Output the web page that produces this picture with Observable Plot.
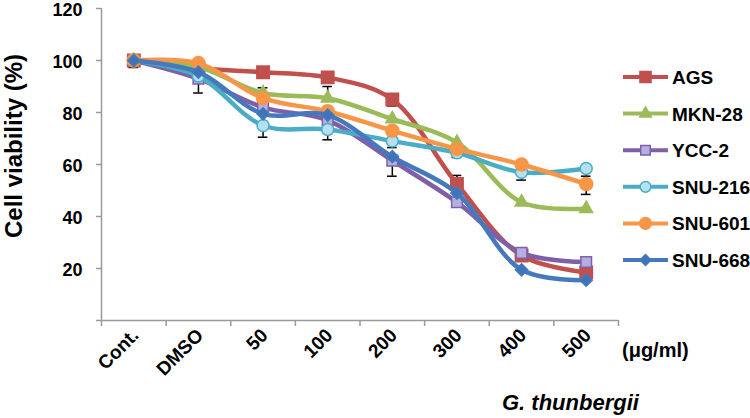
<!DOCTYPE html>
<html>
<head>
<meta charset="utf-8">
<script src="https://cdn.jsdelivr.net/npm/d3@7"></script>
<script src="https://cdn.jsdelivr.net/npm/@observablehq/plot@0.6"></script>
<style>
  html, body { margin: 0; padding: 0; background: #fff; }
  #wrap { position: relative; width: 750px; height: 418px; overflow: hidden; }
</style>
</head>
<body>
<div id="wrap"></div>
<script>
// ---- data ----
const categories = ["Cont.", "DMSO", "50", "100", "200", "300", "400", "500"];
const seriesNames = ["AGS", "MKN-28", "YCC-2", "SNU-216", "SNU-601", "SNU-668"];
const AGS    = [100, 97,   95.5, 93.5, 85,   52.5, 25,   18.5];
const MKN28  = [100, 97.5, 87.5, 85.5, 77.5, 68.5, 45.5, 43];
const YCC2   = [100, 93,   82,   77,   61.5, 45.5, 26,   22.5];
const SNU216 = [100, 94,   75,   73.5, 69,   64.5, 57,   58.5];
const SNU601 = [100, 99,   85.5, 80.5, 73,   66,   60,   52.5];
const SNU668 = [100, 95.5, 79.5, 79,   63,   49,   19.5, 15.5];
const seriesValues = [AGS, MKN28, YCC2, SNU216, SNU601, SNU668];
const yTicks = [0, 20, 40, 60, 80, 100, 120];
const yTickLabels = ["", "20", "40", "60", "80", "100", "120"];

// error bars (visible parts)
const errSeries = ["YCC-2", "YCC-2", "MKN-28", "SNU-216", "MKN-28", "SNU-216", "AGS", "SNU-216", "SNU-668", "AGS", "SNU-216", "SNU-216", "SNU-216", "SNU-601"];
const errCat    = ["Cont.", "DMSO", "50", "50", "100", "100", "200", "200", "200", "300", "300", "400", "500", "500"];
const errLow    = [97.3, 87.5, 87.5, 70.5, 85.5, 69.5, 82.5, 66.5, 55.5, 52.5, 62.7, 54, 55.5, 48.5];
const errHigh   = [100,  93,   89.5, 75,   90,   73.5, 85,   69,   63,   55.8, 64.5, 57, 58.5, 55];

// ---- styles ----
const colors  = ["#C0504D", "#9BBB59", "#7F5FA8", "#4BACC6", "#F79646", "#4579BD"];
const fills   = ["#C0504D", "#9BBB59", "#B3B0E0", "#B6E0F0", "#F79646", "#3F74B8"];
const symbols = ["square", "triangle", "square", "circle", "circle", "diamond2"];
const radii   = [7, 4.8, 6, 6, 6.5, 5.5];
const d3symbols = [d3.symbolSquare, d3.symbolTriangle, d3.symbolSquare, d3.symbolCircle, d3.symbolCircle, d3.symbolDiamond2];

const rows = [];
seriesNames.forEach((s, si) => seriesValues[si].forEach((v, i) => rows.push({series: s, si, i, cat: categories[i], v})));
const errRows = errSeries.map((s, k) => ({series: s, i: categories.indexOf(errCat[k]), lo: errLow[k], hi: errHigh[k]}));
const capW = 0.075;
const capValue = d => (d.lo < seriesValues[seriesNames.indexOf(d.series)][d.i] ? d.lo : d.hi);

const font = "'Liberation Sans', Arial, sans-serif";
const axisColor = "#9a9a9a";
const marks = [];
// axes
marks.push(Plot.axisY({ticks: yTicks, tickFormat: () => "", tickSize: 5, stroke: axisColor, strokeWidth: 1.5, label: null}));
marks.push(Plot.axisX({ticks: d3.range(categories.length + 1).map(i => i - 0.5), tickFormat: () => "", tickSize: 6, stroke: axisColor, strokeWidth: 1.5, label: null}));
marks.push(Plot.ruleX([-0.5], {stroke: axisColor, strokeWidth: 1.5}));
marks.push(Plot.ruleY([0], {stroke: axisColor, strokeWidth: 1.5}));
// y tick labels
marks.push(Plot.text(yTicks, {y: d => d, text: (d, i) => yTickLabels[i], frameAnchor: "left", dx: -19, dy: 1.5, textAnchor: "end", fontSize: 18, fontWeight: "bold", fill: "#000"}));
// x tick labels, rotated
marks.push(Plot.text(categories, {x: (d, i) => i, text: d => d, frameAnchor: "bottom", dx: 6, dy: 16, rotate: -45, textAnchor: "end", fontSize: 19, fontWeight: "bold", fill: "#000"}));
// error bars
marks.push(Plot.ruleX(errRows, {x: "i", y1: "lo", y2: "hi", stroke: "#000", strokeWidth: 1.5}));
marks.push(Plot.ruleY(errRows, {y: capValue, x1: d => d.i - capW, x2: d => d.i + capW, stroke: "#000", strokeWidth: 1.5}));
// series
seriesNames.forEach((s, si) => {
  const data = rows.filter(r => r.si === si);
  marks.push(Plot.line(data, {x: "i", y: "v", stroke: colors[si], strokeWidth: 4.5, curve: "catmull-rom"}));
  marks.push(Plot.dot(data, {x: "i", y: "v", symbol: () => symbols[si], r: radii[si], fill: fills[si], stroke: colors[si], strokeWidth: 1.5}));
});

const chart = Plot.plot({
  width: 750, height: 418,
  marginLeft: 101, marginRight: 132, marginTop: 8, marginBottom: 98,
  style: {fontFamily: font, background: "#fff", overflow: "visible"},
  x: {type: "linear", domain: [-0.5, categories.length - 0.5], axis: null},
  y: {domain: [0, 120], axis: null},
  symbol: {type: "identity"},
  marks
});
document.getElementById("wrap").appendChild(chart);

// ---- annotations and legend ----
const svg = d3.select(chart);
svg.append("text").attr("transform", "translate(22,146) rotate(-90)").attr("text-anchor", "middle")
  .style("font", `bold 24px ${font}`).attr("fill", "#000").text("Cell viability (%)");
svg.append("text").attr("x", 622).attr("y", 357).attr("text-anchor", "start").style("font", `bold 20px ${font}`).attr("fill", "#000").text("(μg/ml)");
svg.append("text").attr("x", 502).attr("y", 410).attr("text-anchor", "start").style("font", `italic bold 22px ${font}`).attr("fill", "#000").text("G. thunbergii");

const leg = svg.append("g");
seriesNames.forEach((s, si) => {
  const y = 77 + si * 36.6;
  leg.append("line").attr("x1", 623).attr("x2", 668).attr("y1", y).attr("y2", y).attr("stroke", colors[si]).attr("stroke-width", 4);
  leg.append("path").attr("transform", `translate(645.5,${y})`)
    .attr("d", d3.symbol(d3symbols[si], Math.PI * radii[si] * radii[si] * 0.8)())
    .attr("fill", fills[si]).attr("stroke", colors[si]).attr("stroke-width", 1.5);
  leg.append("text").attr("x", 672).attr("y", y + 7).attr("text-anchor", "start").style("font", `bold 19px ${font}`).attr("fill", "#000").text(s);
});
</script>
</body>
</html>
